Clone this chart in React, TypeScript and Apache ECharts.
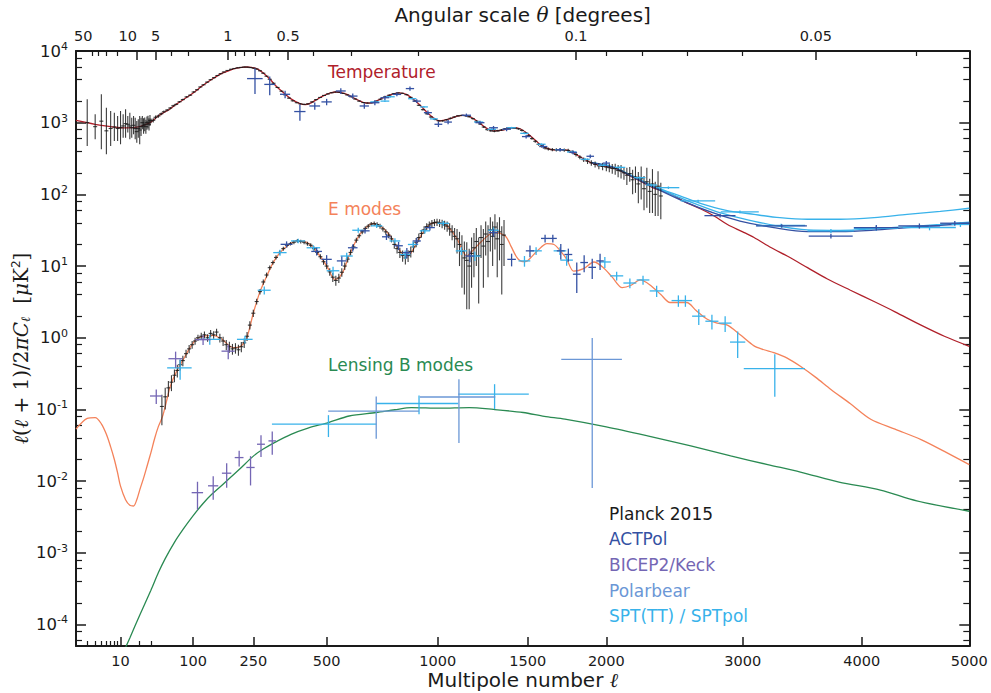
import { useEffect, useRef } from "react";
import * as echarts from "echarts";

// ---------- multipole axis: logarithmic below ell = 30, ell^0.6 above ----------
const ELL_PIVOT = 30;
const POW_SCALE = 5.179;
const LOG_SCALE = 63.7;
const U = (ell: number) =>
  ell >= ELL_PIVOT
    ? POW_SCALE * Math.pow(ell, 0.6)
    : POW_SCALE * Math.pow(ELL_PIVOT, 0.6) + LOG_SCALE * Math.log10(ell / ELL_PIVOT);
const LY = (d: number) => Math.log10(d);

const ELL_MIN = 2;
const ELL_MAX = 5000;
const Y_MIN = -4.3;
const Y_MAX = 4;

// ---------- ticks ----------
const ellTicks = [10, 100, 250, 500, 1000, 1500, 2000, 3000, 4000, 5000];
const ellMinorTicks = [3, 4, 5, 6, 7, 8, 9, 20, 30];
const thetaLabels = [50, 10, 5, 1, 0.5, 0.1, 0.05];
const thetaTicks = [10, 5, 1, 0.5, 0.1, 0.05];
const thetaMinorTicks = [50, 40, 30, 20, 3, 2, 0.9, 0.8, 0.7, 0.6, 0.4, 0.3, 0.2, 0.09, 0.08, 0.07, 0.06, 0.04];
const decades = [-4, -3, -2, -1, 0, 1, 2, 3, 4];
const minorMantissas = [2, 4, 6, 8];

// ---------- theory spectra [ell, D_ell in muK^2] ----------
const TT_THEORY = [
  [2, 1080], [3, 1000], [4, 950], [5, 915], [7, 880], [10, 850], [13, 845], [18, 865], [24, 930],
  [30, 1020], [35, 1130], [40, 1250], [50, 1420], [57, 1540], [70, 1850], [87, 2240], [100, 2600],
  [121, 3320], [140, 4000], [160, 4730], [180, 5250], [203, 5750], [220, 5920], [231, 5980],
  [245, 5900], [260, 5690], [280, 4950], [301, 4030], [320, 3250], [344, 2630], [370, 2150],
  [401, 1845], [420, 1790], [437, 1860], [460, 2080], [487, 2360], [515, 2600], [539, 2680],
  [565, 2580], [594, 2360], [620, 2120], [651, 1910], [680, 1880], [723, 2120], [770, 2450],
  [810, 2600], [845, 2480], [880, 2100], [920, 1650], [960, 1280], [1011, 1060], [1060, 1130],
  [1100, 1230], [1135, 1268], [1170, 1210], [1220, 1000], [1260, 840], [1300, 770], [1350, 785],
  [1410, 850], [1450, 830], [1500, 700], [1556, 540], [1600, 455], [1657, 417], [1700, 418],
  [1743, 415], [1800, 360], [1893, 280], [1960, 252], [2050, 237], [2120, 200], [2187, 171],
  [2270, 140], [2350, 118], [2450, 102], [2548, 80], [2672, 63], [2777, 50], [2880, 38],
  [3000, 30], [3090, 25], [3230, 18], [3360, 13.8], [3530, 9.5], [3700, 6.6], [3900, 4.6],
  [4110, 3.2], [4300, 2.3], [4540, 1.5], [4760, 1.05], [5000, 0.76],
];

const EE_THEORY = [
  [2, 0.053], [3, 0.075], [4, 0.077], [5, 0.063], [6, 0.045], [7, 0.03], [8, 0.02], [9, 0.013],
  [10, 0.0085], [12, 0.0055], [14, 0.0046], [16, 0.0045], [18, 0.0055], [20, 0.0075], [23, 0.011],
  [26, 0.016], [30, 0.025], [35, 0.04], [40, 0.058], [46, 0.08], [52, 0.13], [58, 0.21], [68, 0.33],
  [81, 0.5], [95, 0.75], [107, 0.95], [125, 1.06], [144, 1.08], [165, 0.95], [194, 0.73], [212, 0.75],
  [231, 1.0], [250, 2.2], [270, 4.4], [291, 7.3], [310, 11], [333, 15.4], [360, 19.5], [390, 22.4],
  [410, 22.2], [437, 20.1], [470, 14.5], [501, 10], [532, 6.5], [550, 7], [566, 8.5], [590, 14],
  [622, 23.6], [655, 33], [693, 39.4], [730, 35], [769, 26.3], [805, 18], [839, 13.8], [865, 15],
  [895, 21.2], [935, 32], [978, 40.2], [1010, 40], [1047, 36.9], [1100, 24], [1153, 13.8],
  [1190, 17.1], [1240, 23], [1300, 29.2], [1367, 26.3], [1400, 19], [1436, 13.1], [1470, 11.5],
  [1497, 11.8], [1560, 16.5], [1617, 20.5], [1660, 20], [1700, 16.3], [1740, 12.5], [1785, 8.5],
  [1850, 9.2], [1917, 11.4], [1980, 9.5], [2040, 7], [2108, 5.0], [2170, 5.4], [2233, 6.4],
  [2300, 5.5], [2380, 4.0], [2447, 3.1], [2500, 3.1], [2570, 3.1], [2640, 2.4], [2725, 1.81],
  [2800, 1.6], [2880, 1.5], [2980, 1.1], [3090, 0.77], [3170, 0.68], [3250, 0.62], [3360, 0.52],
  [3470, 0.4], [3600, 0.28], [3730, 0.19], [3900, 0.12], [4080, 0.073], [4300, 0.053],
  [4540, 0.038], [4760, 0.026], [5000, 0.017],
];

const BB_THEORY = [
  [10, 3.3e-5], [14, 6.5e-5], [20, 1.35e-4], [30, 3.0e-4], [40, 5.3e-4], [50, 8.3e-4], [65, 1.4e-3],
  [80, 2.1e-3], [97, 3.1e-3], [120, 4.8e-3], [140, 6.5e-3], [172, 9.5e-3], [210, 0.0145],
  [251, 0.0225], [280, 0.028], [315, 0.0345], [370, 0.045], [430, 0.055], [507, 0.0656],
  [590, 0.081], [706, 0.0906], [790, 0.099], [869, 0.106], [1012, 0.104], [1165, 0.106],
  [1300, 0.1], [1472, 0.0906], [1600, 0.08], [1729, 0.073], [2000, 0.057], [2285, 0.0427],
  [2600, 0.031], [2905, 0.0225], [3200, 0.017], [3470, 0.0134], [3800, 0.0097], [4167, 0.0075],
  [4500, 0.0053], [5000, 0.0038],
];

// high-ell TT models including foregrounds
const ACT_TT_MODEL = [
  [1900, 278], [2050, 237], [2187, 172], [2350, 120], [2548, 80], [2777, 54.6], [2978, 42.5],
  [3250, 34.4], [3530, 30.2], [3812, 30.2], [4110, 31.7], [4410, 34.4], [4721, 36.9], [5000, 39.6],
];
const SPT_TT_MODEL = [
  [1900, 280], [2050, 240], [2187, 178], [2350, 125], [2520, 95], [2672, 75], [2870, 60],
  [3090, 52.6], [3300, 47.3], [3530, 45], [3812, 45], [4110, 47.3], [4410, 52.6], [4721, 58],
  [5000, 64],
];
const SPT_TT_MODEL_B = [
  [2350, 122], [2600, 78], [2800, 57], [3000, 46], [3250, 37], [3530, 32], [3812, 31.5],
  [4110, 33], [4410, 35.5], [4721, 38], [5000, 41],
];

// ---------- Planck 2015 ----------
// low-ell TT [ell, D, lower, upper]
const PLANCK_TT_LOW = [
  [3, 1000, 473, 2120], [4, 880, 586, 1309], [5, 1050, 427, 2490], [6, 770, 363, 1620],
  [7, 830, 473, 1455], [8, 870, 556, 1380], [9, 830, 556, 1240], [10, 850, 500, 1455],
  [11, 900, 617, 1309], [12, 970, 617, 1537], [13, 950, 727, 1240], [14, 900, 586, 1380],
  [15, 850, 617, 1175], [16, 920, 689, 1240], [17, 830, 586, 1175], [18, 750, 526, 1057],
  [19, 830, 617, 1115], [20, 790, 500, 1240], [21, 880, 654, 1175], [22, 1000, 809, 1240],
  [23, 900, 700, 1150], [24, 950, 760, 1180], [25, 880, 700, 1100], [26, 1000, 800, 1220],
  [27, 1020, 830, 1250], [28, 950, 780, 1150], [29, 1080, 900, 1280],
];
// binned TT [ell, D, sigma]
const PLANCK_TT = [
  [30, 1060, 80], [33, 1080, 70], [36, 1190, 70], [40, 1240, 65], [44, 1330, 60], [48, 1420, 60],
  [53, 1500, 55], [58, 1600, 55], [63, 1720, 55], [68, 1800, 50], [74, 1960, 50], [80, 2100, 50],
  [87, 2290, 50], [94, 2420, 50], [101, 2680, 55], [108, 2880, 55], [115, 3150, 60], [122, 3380, 60],
  [130, 3680, 65], [138, 3980, 65], [146, 4250, 70], [154, 4550, 70], [162, 4830, 75], [170, 5100, 75],
  [179, 5350, 80], [188, 5560, 80], [197, 5700, 80], [206, 5830, 85], [215, 5900, 85], [224, 5980, 85],
  [233, 5950, 85], [242, 5870, 85], [251, 5760, 85], [260, 5600, 80], [270, 5300, 80], [280, 4900, 75],
  [290, 4450, 70], [300, 4030, 65], [312, 3550, 60], [325, 3100, 55], [338, 2750, 50], [350, 2450, 45],
  [363, 2200, 40], [376, 2020, 40], [390, 1900, 35], [403, 1830, 35], [416, 1800, 35], [430, 1830, 35],
  [445, 1950, 35], [460, 2100, 40], [475, 2250, 40], [490, 2400, 40], [505, 2520, 45], [520, 2620, 45],
  [535, 2680, 45], [550, 2660, 45], [566, 2560, 45], [582, 2440, 40], [598, 2300, 40], [615, 2140, 40],
  [632, 2000, 35], [650, 1910, 35], [668, 1880, 35], [686, 1900, 35], [705, 1990, 35], [725, 2130, 40],
  [745, 2290, 40], [765, 2420, 45], [785, 2540, 45], [805, 2600, 45], [825, 2570, 45], [845, 2460, 45],
  [865, 2250, 40], [885, 2000, 40], [905, 1750, 35], [925, 1520, 35], [945, 1330, 30], [965, 1200, 30],
  [985, 1110, 30], [1005, 1060, 30], [1025, 1060, 30], [1045, 1100, 30], [1065, 1150, 30],
  [1085, 1200, 30], [1105, 1245, 30], [1125, 1265, 30], [1145, 1250, 30], [1165, 1210, 30],
  [1185, 1140, 30], [1205, 1050, 28], [1225, 960, 28], [1245, 870, 26], [1265, 800, 26],
  [1285, 770, 25], [1305, 760, 25], [1325, 770, 25], [1345, 790, 25], [1365, 820, 25],
  [1385, 840, 25], [1405, 845, 25], [1425, 840, 25], [1445, 820, 25], [1465, 780, 25],
  [1485, 720, 25], [1505, 660, 25], [1525, 600, 24], [1545, 550, 24], [1565, 500, 22],
  [1585, 470, 22], [1605, 445, 22], [1625, 430, 22], [1650, 420, 22], [1675, 418, 22],
  [1700, 420, 22], [1725, 415, 22], [1750, 410, 22], [1775, 390, 22], [1800, 360, 22],
  [1825, 330, 22], [1850, 305, 22], [1875, 290, 25], [1900, 275, 25], [1925, 262, 25],
  [1950, 250, 25], [1975, 245, 28], [2000, 240, 30], [2020, 236, 32], [2040, 230, 36],
  [2060, 228, 40], [2080, 215, 42], [2100, 212, 45], [2120, 200, 40], [2140, 185, 50],
  [2160, 195, 45], [2180, 160, 60], [2200, 175, 70], [2220, 140, 65], [2240, 165, 80],
  [2260, 120, 60], [2280, 150, 85], [2300, 110, 55], [2320, 140, 85], [2340, 100, 50],
  [2360, 130, 80], [2380, 95, 50],
];
// binned EE [ell, D, sigma]
const PLANCK_EE = [
  [45, 0.11, 0.05], [50, 0.15, 0.05], [55, 0.2, 0.05], [60, 0.24, 0.06], [65, 0.3, 0.06],
  [70, 0.35, 0.07], [75, 0.42, 0.07], [80, 0.48, 0.08], [86, 0.6, 0.08], [92, 0.7, 0.09],
  [98, 0.8, 0.1], [104, 0.9, 0.1], [110, 1.0, 0.1], [117, 1.05, 0.12], [124, 1.1, 0.12],
  [131, 1.0, 0.12], [138, 1.15, 0.13], [145, 1.1, 0.13], [152, 1.2, 0.14], [160, 1.0, 0.14],
  [168, 0.9, 0.13], [176, 0.8, 0.13], [184, 0.75, 0.13], [192, 0.7, 0.12], [200, 0.72, 0.12],
  [208, 0.68, 0.12], [216, 0.75, 0.12], [224, 0.85, 0.13], [232, 1.05, 0.15], [240, 1.5, 0.2],
  [250, 2.2, 0.25], [260, 3.2, 0.3], [270, 4.4, 0.4], [280, 6.0, 0.5], [290, 7.5, 0.6],
  [300, 9.5, 0.7], [310, 11.2, 0.8], [320, 13.2, 0.9], [332, 15.5, 1.0], [344, 17.5, 1.1],
  [356, 19.5, 1.2], [368, 20.5, 1.2], [380, 21.5, 1.3], [392, 22.5, 1.3], [404, 22.0, 1.3],
  [416, 21.5, 1.3], [428, 20.5, 1.3], [440, 19.5, 1.3], [452, 17.5, 1.2], [464, 15.5, 1.2],
  [476, 13.5, 1.1], [488, 11.5, 1.1], [500, 10, 1], [512, 8.3, 1], [524, 7.0, 1], [536, 6.3, 1],
  [548, 6.8, 1], [560, 8.2, 1.1], [572, 10, 1.2], [584, 12.5, 1.3], [596, 15.5, 1.5],
  [608, 18.5, 1.6], [620, 23, 1.8], [632, 26.5, 2], [645, 30, 2.2], [658, 33.5, 2.4],
  [671, 36, 2.5], [684, 38.5, 2.7], [697, 39, 2.8], [710, 38, 2.8], [723, 36, 2.8], [736, 33, 2.7],
  [749, 30, 2.7], [762, 27, 2.6], [775, 24, 2.6], [788, 20, 2.5], [801, 17.5, 2.5], [814, 15.5, 2.5],
  [827, 14, 2.5], [840, 13, 2.5], [853, 14, 2.6], [866, 16, 2.8], [879, 18.5, 3], [892, 21.5, 3.2],
  [905, 25, 3.4], [918, 28.5, 3.6], [931, 32, 3.8], [944, 35.5, 4], [957, 37.5, 4.2],
  [970, 39.5, 4.4], [983, 40.5, 4.6], [996, 41, 4.8], [1009, 40, 5], [1022, 39, 5.2],
  [1035, 37.5, 5.5], [1048, 36, 6], [1061, 33, 6.5], [1074, 30, 7], [1087, 26, 8], [1100, 24, 9],
  [1113, 20, 10], [1126, 16, 11], [1139, 13, 9], [1152, 12, 9.5], [1165, 10, 7.5], [1178, 15, 10],
  [1191, 18, 11], [1204, 22, 12], [1217, 14, 11], [1230, 25, 12], [1243, 19, 14], [1256, 28, 14],
  [1269, 22, 15], [1282, 32, 16], [1295, 26, 16], [1308, 35, 18], [1321, 24, 17], [1334, 30, 18],
  [1347, 20, 16], [1360, 27, 17],
];

// ---------- other experiments [ell, D, half bin width, sigma] ----------
const ACT_TT = [
  [255, 4120, 23, 1600], [300, 3420, 17, 1000], [350, 2490, 17, 300], [401, 1430, 20, 370],
  [455, 1710, 20, 200], [500, 1950, 20, 200], [556, 2770, 20, 250], [605, 2350, 20, 200],
  [654, 1710, 20, 150], [700, 1900, 20, 150], [745, 2230, 20, 150], [800, 2480, 20, 150],
  [862, 2990, 20, 200], [895, 2000, 20, 120], [950, 1380, 20, 100], [1003, 950, 20, 80],
  [1053, 1020, 20, 70], [1150, 1270, 25, 70], [1224, 1000, 25, 60], [1300, 850, 25, 50],
  [1375, 810, 25, 50], [1490, 640, 25, 40], [1594, 465, 25, 30], [1698, 420, 25, 25],
  [1782, 385, 25, 25], [1893, 340, 25, 20], [2000, 273, 25, 20], [2823, 50.5, 120, 3],
  [3315, 36.3, 210, 2], [3730, 26.2, 190, 2], [4130, 34.4, 200, 3], [4525, 36.3, 195, 3],
  [4860, 39.6, 140, 3],
];
const ACT_EE = [
  [355, 20.1, 20, 2], [462, 16, 20, 2], [500, 12.4, 20, 1.8], [560, 11.8, 20, 1.8],
  [605, 18, 20, 2], [657, 31, 20, 2.5], [752, 25.6, 20, 2.5], [808, 19.2, 20, 2.5],
  [847, 15.4, 20, 2.5], [895, 22.4, 20, 2.5], [960, 34.4, 25, 3], [1169, 13.8, 25, 2.5],
  [1300, 29.2, 25, 3.5], [1404, 12.4, 25, 2.5], [1513, 16.3, 25, 3], [1605, 24.3, 25, 3],
  [1653, 24.3, 25, 3], [1703, 16.3, 25, 4], [1751, 14.5, 25, 3], [1805, 7.7, 25, 3.5],
  [1853, 11.2, 25, 3], [1906, 9.6, 25, 3], [1958, 11.8, 25, 3],
];
const BICEP_EE = [
  [37, 0.154, 8, 0.035], [67, 0.51, 12, 0.13], [121, 0.94, 17, 0.15], [181, 0.65, 17, 0.15],
];
const BICEP_BB = [
  [109, 0.0069, 12, 0.0029], [144, 0.0086, 12, 0.0031], [177, 0.0129, 12, 0.0048],
  [210, 0.0213, 12, 0.0053], [242, 0.0155, 12, 0.0068], [273, 0.0327, 12, 0.011],
  [308, 0.0364, 12, 0.013],
];
const POLARBEAR_BB = [
  [706, 0.095, 200, 0.056], [1110, 0.149, 200, 0.115], [1906, 0.5, 200, 0.492],
];
const SPT_TT = [
  [700, 1950, 20, 60], [745, 2000, 20, 60], [770, 2300, 20, 60], [873, 2160, 20, 60],
  [930, 1660, 20, 50], [980, 1130, 20, 40], [1217, 1020, 25, 30], [1290, 809, 25, 25],
  [1404, 850, 25, 25], [1480, 710, 25, 20], [1583, 500, 25, 15], [1698, 420, 30, 12],
  [1773, 390, 30, 12], [1860, 309, 30, 10], [1980, 255, 35, 8], [2094, 238, 35, 8],
  [2230, 171, 40, 6], [2312, 135, 40, 6], [2435, 124, 80, 5], [2655, 81, 130, 3],
  [2978, 57, 150, 2.5], [3310, 36.8, 200, 2], [3730, 31, 200, 2], [4130, 33.6, 200, 2.5],
  [4620, 34.5, 250, 3], [4914, 38, 86, 3],
];
const SPT_EE = [
  [75, 0.38, 22, 0.12], [136, 0.95, 27, 0.15], [226, 0.95, 22, 0.12], [283, 4.6, 20, 0.6],
  [333, 15.4, 22, 1.5], [395, 22.4, 25, 1.6], [450, 18, 25, 1.5], [525, 8.6, 25, 1.2],
  [580, 13.8, 25, 1.5], [628, 31.6, 25, 2.5], [708, 36.4, 25, 2.5], [791, 22.4, 25, 2],
  [839, 14.5, 25, 2], [877, 20, 25, 2], [935, 31, 25, 2.5], [1028, 39.5, 30, 3],
  [1123, 16.3, 30, 2], [1196, 13.8, 30, 2], [1300, 31.6, 30, 3], [1480, 11.8, 35, 2],
  [1550, 16.3, 35, 2], [1698, 16.3, 40, 2], [1740, 12.1, 40, 2], [1990, 11.4, 40, 2],
  [2070, 7.3, 45, 1], [2161, 5.8, 45, 0.9], [2253, 6.4, 45, 0.9], [2350, 4.5, 50, 0.8],
  [2508, 3.3, 50, 0.6], [2560, 3.3, 50, 0.6], [2660, 2.0, 50, 0.5], [2760, 1.7, 50, 0.4],
  [2862, 1.6, 50, 0.4], [2960, 0.87, 60, 0.35], [3258, 0.37, 250, 0.22],
];
const SPT_BB = [
  [507, 0.0622, 200, 0.021], [906, 0.121, 200, 0.035], [1306, 0.163, 200, 0.062],
];

const legendItems = ["Planck 2015", "ACTPol", "BICEP2/Keck", "Polarbear", "SPT(TT) / SPTpol"];

// ---------- styling ----------
const FONT = "DejaVu Sans";
const INK = "#1a1a1a";
const C_TT = "#b0202a";
const C_EE = "#f4825a";
const C_BB = "#2a8a52";
const C_PLANCK = "#1a1a1a";
const C_ACT = "#3451a3";
const C_BICEP = "#7466b4";
const C_PBEAR = "#6b97d6";
const C_SPT = "#38b2ea";
const legendColors = [C_PLANCK, C_ACT, C_BICEP, C_PBEAR, C_SPT];

const nearestLabel = (v: number, values: number[], text: (x: number) => string) => {
  let best = 0;
  let bestD = Infinity;
  values.forEach((t, i) => {
    const d = Math.abs(t - v);
    if (d < bestD) {
      bestD = d;
      best = i;
    }
  });
  return text(best);
};

const lowLog = (v: number) => (v > 0 ? Math.max(LY(v), Y_MIN) : Y_MIN);

function curve(name: string, rows: number[][], color: string, width: number, z: number) {
  return {
    type: "line",
    name,
    data: rows.map(([l, d]) => [U(l), LY(d)]),
    showSymbol: false,
    symbol: "none",
    smooth: 0.3,
    lineStyle: { color, width },
    silent: true,
    z,
    xAxisIndex: 0,
    yAxisIndex: 0,
  };
}

function planckSeries(name: string, rows: number[][], width: number) {
  return {
    type: "custom",
    name,
    data: rows,
    encode: { x: 0, y: [1, 2, 3] },
    clip: true,
    silent: true,
    z: 4,
    xAxisIndex: 0,
    yAxisIndex: 0,
    renderItem: (_p: any, api: any) => {
      const c = api.coord([api.value(0), api.value(1)]);
      const b = api.coord([api.value(0), api.value(2)]);
      const t = api.coord([api.value(0), api.value(3)]);
      const style = { stroke: C_PLANCK, lineWidth: width, opacity: 0.85 };
      return {
        type: "group",
        children: [
          { type: "line", shape: { x1: c[0], y1: b[1], x2: c[0], y2: t[1] }, style },
          { type: "line", shape: { x1: c[0] - 2, y1: c[1], x2: c[0] + 2, y2: c[1] }, style },
        ],
      };
    },
  };
}

const planckRows = (rows: number[][]) =>
  rows.map(([l, d, s]) => [U(l), LY(d), lowLog(d - s), LY(d + s)]);
const planckLowRows = (rows: number[][]) =>
  rows.map(([l, d, lo, hi]) => [U(l), LY(d), LY(lo), LY(hi)]);

function crossSeries(name: string, rows: number[][], color: string) {
  const data = rows.map(([l, d, dl, s]) => [
    U(l),
    LY(d),
    U(Math.max(l - dl, ELL_MIN)),
    U(Math.min(l + dl, ELL_MAX)),
    lowLog(d - s),
    LY(d + s),
  ]);
  return {
    type: "custom",
    name,
    data,
    encode: { x: [0, 2, 3], y: [1, 4, 5] },
    clip: true,
    silent: true,
    z: 5,
    xAxisIndex: 0,
    yAxisIndex: 0,
    renderItem: (_p: any, api: any) => {
      const c = api.coord([api.value(0), api.value(1)]);
      const l = api.coord([api.value(2), api.value(1)]);
      const r = api.coord([api.value(3), api.value(1)]);
      const b = api.coord([api.value(0), api.value(4)]);
      const t = api.coord([api.value(0), api.value(5)]);
      const style = { stroke: color, lineWidth: 1.3 };
      return {
        type: "group",
        children: [
          { type: "line", shape: { x1: l[0], y1: c[1], x2: r[0], y2: c[1] }, style },
          { type: "line", shape: { x1: c[0], y1: b[1], x2: c[0], y2: t[1] }, style },
        ],
      };
    },
  };
}

const baseX = {
  type: "value",
  min: U(ELL_MIN),
  max: U(ELL_MAX),
  splitLine: { show: false },
  gridIndex: 0,
};
const baseY = {
  type: "value",
  min: Y_MIN,
  max: Y_MAX,
  splitLine: { show: false },
  gridIndex: 0,
};
const spine = { show: true, onZero: false, lineStyle: { color: INK, width: 2 } };
const noLine = { show: false, onZero: false };
const majorTick = (values: number[], length: number) => ({
  show: true,
  inside: true,
  length,
  customValues: values,
  lineStyle: { color: INK, width: 1.5 },
});
const minorTick = (values: number[], length: number) => ({
  show: true,
  inside: true,
  length,
  customValues: values,
  lineStyle: { color: INK, width: 1.2 },
});

const yMinorValues: number[] = [];
for (let k = -5; k <= 3; k++) {
  minorMantissas.forEach((m) => {
    const v = k + Math.log10(m);
    if (v > Y_MIN && v < Y_MAX) yMinorValues.push(v);
  });
}

const mathRich = {
  i: { fontFamily: "DejaVu Serif", fontStyle: "italic", fontSize: 20, color: INK },
  r: { fontFamily: "DejaVu Serif", fontSize: 20, color: INK },
  sub: { fontFamily: "DejaVu Serif", fontStyle: "italic", fontSize: 13, color: INK, padding: [9, 0, 0, 0] },
  sup: { fontFamily: FONT, fontSize: 12, color: INK, padding: [0, 0, 10, 0] },
};

function buildOption() {
  const ellU = ellTicks.map(U);
  const thetaLabelU = thetaLabels.map((t) => U(180 / t));
  const labelStyle = { fontFamily: FONT, fontSize: 14.5, color: INK };

  return {
    animation: false,
    backgroundColor: "#ffffff",
    grid: { left: 76, right: 21.7, top: 51, bottom: 47, containLabel: false, outerBoundsMode: "none" },
    xAxis: [
      {
        ...baseX,
        position: "bottom",
        axisLine: spine,
        axisTick: majorTick(ellU, 9),
        axisLabel: {
          ...labelStyle,
          margin: 7,
          customValues: ellU,
          formatter: (v: number) => nearestLabel(v, ellU, (i) => String(ellTicks[i])),
        },
        name: "Multipole number {i|ℓ}",
        nameLocation: "middle",
        nameGap: 24,
        nameMoveOverlap: false,
        nameTextStyle: { fontFamily: FONT, fontSize: 20, color: INK, verticalAlign: "top", rich: mathRich },
      },
      {
        ...baseX,
        position: "bottom",
        axisLine: noLine,
        axisTick: minorTick(ellMinorTicks.map(U), 5),
        axisLabel: { show: false },
      },
      {
        ...baseX,
        position: "top",
        axisLine: spine,
        axisTick: majorTick(thetaTicks.map((t) => U(180 / t)), 9),
        axisLabel: {
          ...labelStyle,
          margin: 8,
          customValues: thetaLabelU,
          formatter: (v: number) =>
            nearestLabel(v, thetaLabelU, (i) => {
              const t = thetaLabels[i];
              return t >= 10 ? `{shift|${t}}` : String(t);
            }),
          rich: { shift: { ...labelStyle, padding: [0, 18, 0, 0] } },
        },
        name: "Angular scale {i|θ} [degrees]",
        nameLocation: "middle",
        nameGap: 26,
        nameMoveOverlap: false,
        nameTextStyle: { fontFamily: FONT, fontSize: 20, color: INK, verticalAlign: "bottom", rich: mathRich },
      },
      {
        ...baseX,
        position: "top",
        axisLine: noLine,
        axisTick: minorTick(thetaMinorTicks.map((t) => U(180 / t)), 5),
        axisLabel: { show: false },
      },
    ],
    yAxis: [
      {
        ...baseY,
        position: "left",
        axisLine: spine,
        axisTick: majorTick(decades, 10),
        axisLabel: {
          fontFamily: FONT,
          fontSize: 16.5,
          color: INK,
          margin: 8,
          customValues: decades,
          formatter: (v: number) => `10{sup|${Math.round(v)}}`,
          rich: { sup: { fontFamily: FONT, fontSize: 11, color: INK, padding: [0, 0, 9, 0] } },
        },
        name:
          "{i|ℓ}{r|(}{i|ℓ}{r| + 1)/2}{i|π}{i|C}{sub|ℓ}{r|  [}{i|μ}{r|K}{sup|2}{r|]}",
        nameLocation: "middle",
        nameRotate: 90,
        nameGap: 44,
        nameMoveOverlap: false,
        nameTextStyle: { fontFamily: FONT, fontSize: 20, color: INK, rich: mathRich },
      },
      {
        ...baseY,
        position: "left",
        axisLine: noLine,
        axisTick: minorTick(yMinorValues, 6),
        axisLabel: { show: false },
      },
      {
        ...baseY,
        position: "right",
        axisLine: spine,
        axisTick: majorTick(decades, 10),
        axisLabel: { show: false },
      },
      {
        ...baseY,
        position: "right",
        axisLine: noLine,
        axisTick: minorTick(yMinorValues, 6),
        axisLabel: { show: false },
      },
    ],
    series: [
      curve("TT", TT_THEORY, C_TT, 1.3, 2),
      curve("EE", EE_THEORY, C_EE, 1.3, 2),
      curve("BB", BB_THEORY, C_BB, 1.3, 2),
      curve("SPT model", SPT_TT_MODEL, C_SPT, 1.3, 2),
      curve("SPT model b", SPT_TT_MODEL_B, C_SPT, 1.3, 2),
      curve("ACT model", ACT_TT_MODEL, C_ACT, 1.3, 2),
      planckSeries("Planck TT low", planckLowRows(PLANCK_TT_LOW), 1.1),
      planckSeries("Planck TT", planckRows(PLANCK_TT), 1.1),
      planckSeries("Planck EE", planckRows(PLANCK_EE), 1.1),
      crossSeries("SPT TT", SPT_TT, C_SPT),
      crossSeries("SPT EE", SPT_EE, C_SPT),
      crossSeries("SPT BB", SPT_BB, C_SPT),
      crossSeries("ACTPol TT", ACT_TT, C_ACT),
      crossSeries("ACTPol EE", ACT_EE, C_ACT),
      crossSeries("BICEP2/Keck EE", BICEP_EE, C_BICEP),
      crossSeries("BICEP2/Keck BB", BICEP_BB, C_BICEP),
      crossSeries("Polarbear BB", POLARBEAR_BB, C_PBEAR),
    ],
    graphic: [
      { type: "text", left: 328, top: 63, style: { text: "Temperature", fill: C_TT, fontSize: 17, fontFamily: FONT } },
      { type: "text", left: 328, top: 200, style: { text: "E modes", fill: C_EE, fontSize: 17, fontFamily: FONT } },
      { type: "text", left: 328, top: 356, style: { text: "Lensing B modes", fill: C_BB, fontSize: 17, fontFamily: FONT } },
      ...legendItems.map((t, i) => ({
        type: "text",
        left: 609,
        top: 505 + i * 25.7,
        style: { text: t, fill: legendColors[i], fontSize: 17, fontFamily: FONT },
      })),
    ],
  };
}

export default function App() {
  const ref = useRef<HTMLDivElement>(null);
  useEffect(() => {
    const chart = echarts.init(ref.current!, undefined, { renderer: "svg" });
    chart.setOption(buildOption() as any);
    return () => chart.dispose();
  }, []);
  return (
    <div
      ref={ref}
      style={{ position: "fixed", left: 0, top: 0, width: 991, height: 693, background: "#fff" }}
    />
  );
}
